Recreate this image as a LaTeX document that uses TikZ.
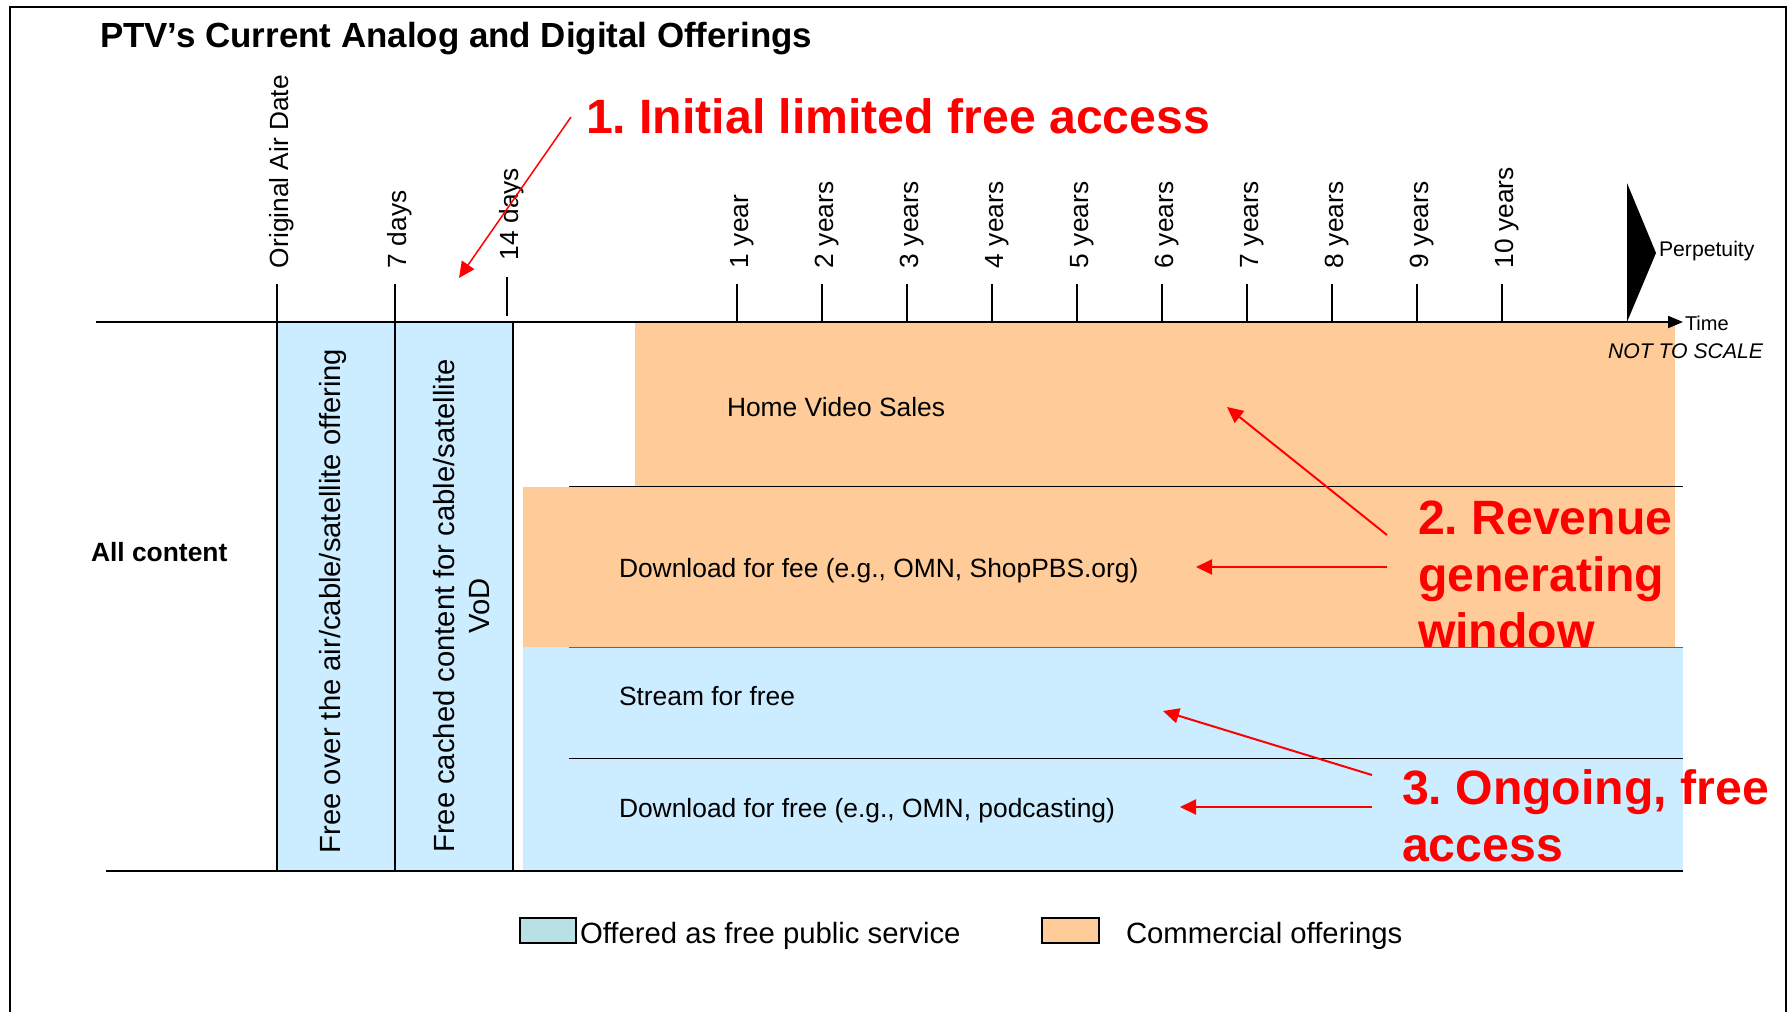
\documentclass[tikz,border=0pt]{standalone}
\usepackage{fontspec}
\setmainfont{Liberation Sans}
\usetikzlibrary{arrows.meta}
\definecolor{orng}{RGB}{255,204,153}
\definecolor{lblue}{RGB}{204,236,255}
\definecolor{legblue}{RGB}{185,225,229}
\frenchspacing
\begin{document}
\begin{tikzpicture}[x=1pt,y=-1pt,
  every node/.style={inner sep=0pt, outer sep=0pt},
  ticklab/.style={rotate=90, anchor=base west, font=\fontsize{26.3}{31}\selectfont},
  rowtxt/.style={anchor=base west, font=\fontsize{26.4}{31}\selectfont},
  redtxt/.style={text=red, font=\fontsize{48.2}{56.5}\selectfont\bfseries, align=left},
  redarr/.style={red, line width=2pt, -{Triangle[length=16pt,width=15pt]}},
  tickline/.style={line width=1.5pt},
  sepline/.style={line width=1pt},
  vbox/.style={draw, line width=2pt, fill=lblue},
  legbox/.style={draw, line width=2pt, minimum height=25pt},
]
\useasboundingbox (0,0) rectangle (1789,1012);
\fill[white] (0,0) rectangle (1789,1012);

% frame
\draw[line width=2.5pt] (10,1012) -- (10,7) -- (1786,7) -- (1786,1012);

% title
\node[anchor=base west, font=\fontsize{34.9}{40}\selectfont\bfseries] (title) at (100,47) {PTV’s Current Analog and Digital Offerings};

% coloured rows
\fill[orng] (635,323) rectangle (1675,487);
\fill[orng] (523,487) rectangle (1675,647);
\fill[lblue] (523,647) rectangle (1683,871);

% separators
\draw[sepline] (569,486) -- (1683,486);
\draw[sepline, black!60] (569,647) -- (1683,647);
\draw[sepline] (569,758) -- (1683,758);
\draw[line width=1.5pt] (106,871) -- (1683,871);

% first two columns
\node[vbox, minimum width=118pt, minimum height=549pt] (box1) at (336,596.5) {};
\node[vbox, minimum width=117.5pt, minimum height=549pt] (box2) at (453.75,596.5) {};
\node[rotate=90, font=\fontsize{29.2}{34}\selectfont] (b1t) at (333,601) {Free over the air/cable/satellite offering};
\node[rotate=90, align=center, font=\fontsize{29.2}{35}\selectfont] (b2t) at (462,606) {Free cached content for cable/satellite\\VoD};

% time axis
\node[anchor=base west, font=\fontsize{20}{24}\selectfont] (time) at (1685,330) {Time};
\coordinate (axL) at (96,322);
\coordinate (axR) at (1683,322);
\draw[line width=2pt, -{Triangle[length=15pt,width=12pt]}] (axL) -- (axR);
\node[anchor=base west, font=\fontsize{21.2}{25}\selectfont\itshape] (nts) at (1608,358) {NOT TO SCALE};

% ticks
\draw[tickline] (277,284) -- (277,322);
\node[ticklab] (tOAD) at (288,268) {Original Air Date};
\draw[tickline] (395,284) -- (395,322);
\node[ticklab] (t7) at (406,268) {7 days};
\draw[tickline] (507,277) -- (507,316);
\node[ticklab] (t14) at (518,260) {14 days};
\foreach \x/\lab [count=\i] in {737/1 year, 822/2 years, 907/3 years, 992/4 years, 1077/5 years, 1162/6 years, 1247/7 years, 1332/8 years, 1417/9 years, 1502/10 years}{
  \draw[tickline] (\x,284) -- (\x,322);
  \node[ticklab] (ty\i) at (\x+11,268) {\lab};
}

% perpetuity
\fill (1627,183) -- (1656,253) -- (1627,322) -- cycle;
\node[anchor=base west, font=\fontsize{21.2}{25}\selectfont] (perp) at (1659,256) {Perpetuity};

% row labels
\node[rowtxt] (hvs) at (727,416.5) {Home Video Sales};
\node[rowtxt] (dfee) at (619,577) {Download for fee (e.g., OMN, ShopPBS.org)};
\node[rowtxt] (sfree) at (619,705.5) {Stream for free};
\node[rowtxt] (dfree) at (619,817.5) {Download for free (e.g., OMN, podcasting)};
\node[anchor=base west, font=\fontsize{26.4}{31}\selectfont\bfseries] (allc) at (91,561) {All content};

% red annotations
\node[redtxt, anchor=base west] (ann1) at (586,133) {1. Initial limited free access};
\node[redtxt, anchor=north west] (ann2) at (1418,501) {2. Revenue\\generating\\window};
\node[redtxt, anchor=north west] (ann3) at (1402,770) {3. Ongoing, free\\access};

\coordinate (a1s) at (571,117);
\coordinate (a1e) at (459,278);
\coordinate (a2s) at (1387,535);
\coordinate (a2e) at (1227,407);
\coordinate (a2hs) at (1387,567);
\coordinate (a2he) at (1196,567);
\coordinate (a3s) at (1372,775);
\coordinate (a3e) at (1163,711);
\coordinate (a3hs) at (1372,807);
\coordinate (a3he) at (1180,807);
\draw[redarr, line width=1.5pt] (a1s) -- (a1e);
\draw[redarr] (a2s) -- (a2e);
\draw[redarr] (a2hs) -- (a2he);
\draw[redarr] (a3s) -- (a3e);
\draw[redarr] (a3hs) -- (a3he);

% legend
\node[legbox, fill=legblue, minimum width=56pt] (legb) at (548,930.5) {};
\node[anchor=base west, font=\fontsize{29.3}{34}\selectfont] (legbt) at (580,943) {Offered as free public service};
\node[legbox, fill=orng, minimum width=57pt] (lego) at (1070.5,930.5) {};
\node[anchor=base west, font=\fontsize{29.3}{34}\selectfont] (legot) at (1126,943) {Commercial offerings};
\end{tikzpicture}
\end{document}
